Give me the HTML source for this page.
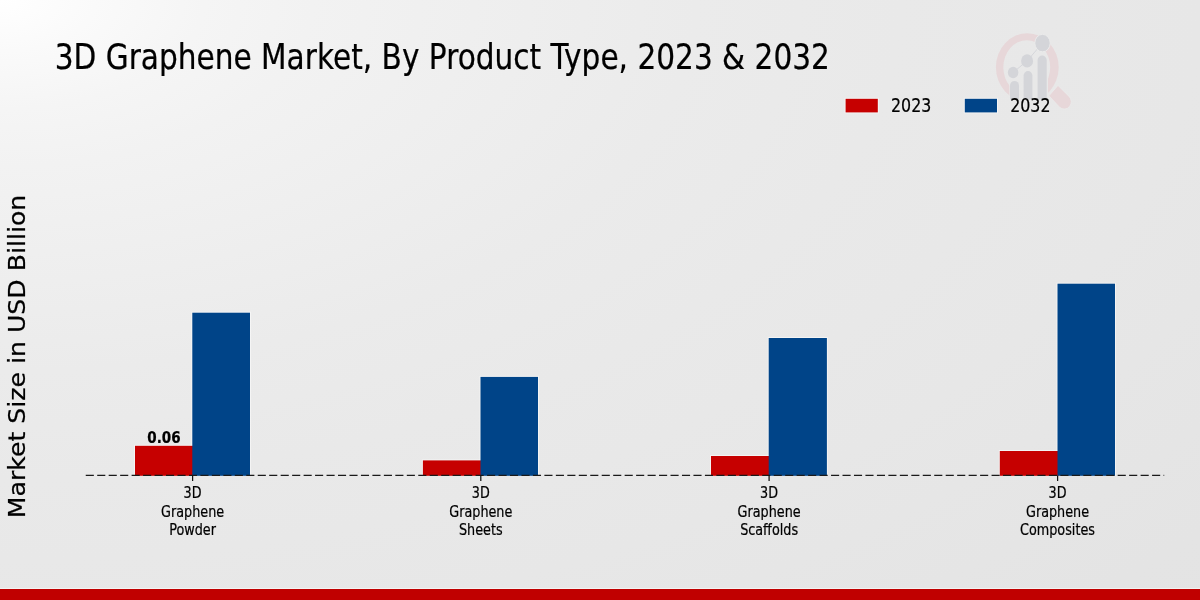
<!DOCTYPE html>
<html lang="en"><head><meta charset="utf-8"><title>3D Graphene Market, By Product Type, 2023 &amp; 2032</title>
<style>
html,body{margin:0;padding:0;}
body{width:1200px;height:600px;overflow:hidden;background:#e8e8e8;}
#chart{position:absolute;left:0;top:0;width:1200px;height:600px;
 background:radial-gradient(ellipse 1200px 640px at 0 0,#ffffff 0%,#fafafa 8%,#f5f5f5 17%,#f2f2f2 26%,#eeeeee 44%,#ebebeb 58%,#e9e9e9 75%,#e7e7e7 100%,#e4e4e4 130%,#e3e3e3 150%);}
#bar{position:absolute;left:0;top:589px;width:1200px;height:11px;background:#c00000;box-shadow:0 -1px 0 rgba(255,255,255,0.5);}
svg{position:absolute;left:0;top:0;}
svg text{font-family:"DejaVu Sans","Liberation Sans",sans-serif;fill:#000;stroke:#000;stroke-width:0.22px;vector-effect:non-scaling-stroke;stroke-linejoin:round;}
</style></head>
<body>
<div id="chart">
<svg width="1200" height="600" viewBox="0 0 1200 600">
<g id="logo">
<defs><clipPath id="rc"><path d="M980 20 H1090 V120 H980 Z M1009.3 78 V103 H1048 V78 Z" clip-rule="evenodd"/></clipPath></defs>
<g clip-path="url(#rc)">
<path fill="#e7d7d9" fill-rule="evenodd" d="M995.9 67.3 a31.4 34.1 0 1 0 62.8 0 a31.4 34.1 0 1 0 -62.8 0 Z M1003.3 67.3 a23.45 27 0 1 0 46.9 0 a23.45 27 0 1 0 -46.9 0 Z"/>
</g>
<path fill="#e7d7d9" stroke="#ebebeb" stroke-width="0.8" d="M1048.9 95.8 L1058.0 85.4 L1068.8 96.2 A6.9 7.1 0 0 1 1059.6 107.3 Z"/>
<polyline points="1013.1,72.5 1027.1,60.9 1042.5,43.1" fill="none" stroke="#d4d5d9" stroke-width="0.9"/>
<g fill="#d4d5d9" stroke="none">
<path d="M1010 99.5 V85.4 a4.5 4.5 0 0 1 9 0 V99.5 Z"/>
<path d="M1023.6 99.5 V75.5 a4.4 4.4 0 0 1 8.8 0 V99.5 Z"/>
<path d="M1037.6 99.5 V60.1 a4.55 4.55 0 0 1 9.1 0 V99.5 Z"/>
<ellipse cx="1013.1" cy="72.5" rx="5.25" ry="5.8"/>
<ellipse cx="1027.1" cy="60.9" rx="6" ry="6.6"/>
<ellipse cx="1042.5" cy="43.1" rx="7.7" ry="8.75" stroke="#ebebeb" stroke-width="1"/>
</g>
</g>
<rect x="134.0" y="444.8" width="59.3" height="31.0" fill="#fff" fill-opacity="0.5"/>
<rect x="191.3" y="311.7" width="59.7" height="164.1" fill="#fff" fill-opacity="0.5"/>
<rect x="421.9" y="459.4" width="59.6" height="16.4" fill="#fff" fill-opacity="0.5"/>
<rect x="479.5" y="375.9" width="59.5" height="99.9" fill="#fff" fill-opacity="0.5"/>
<rect x="710.0" y="455.0" width="59.7" height="20.8" fill="#fff" fill-opacity="0.5"/>
<rect x="767.7" y="337.0" width="60.2" height="138.8" fill="#fff" fill-opacity="0.5"/>
<rect x="998.8" y="450.0" width="59.7" height="25.8" fill="#fff" fill-opacity="0.5"/>
<rect x="1056.5" y="282.7" width="59.5" height="193.1" fill="#fff" fill-opacity="0.5"/>
<rect x="135.0" y="445.8" width="58.3" height="30.0" fill="#c60000"/>
<rect x="192.3" y="312.7" width="57.7" height="163.1" fill="#004488"/>
<rect x="422.9" y="460.4" width="58.6" height="15.4" fill="#c60000"/>
<rect x="480.5" y="376.9" width="57.5" height="98.9" fill="#004488"/>
<rect x="711.0" y="456.0" width="58.7" height="19.8" fill="#c60000"/>
<rect x="768.7" y="338.0" width="58.2" height="137.8" fill="#004488"/>
<rect x="999.8" y="451.0" width="58.7" height="24.8" fill="#c60000"/>
<rect x="1057.5" y="283.7" width="57.5" height="192.1" fill="#004488"/>
<line x1="85.75" y1="475.45" x2="1164.2" y2="475.45" stroke="#1a1a1a" stroke-width="1.3" stroke-dasharray="8.1 3.366"/>
<line x1="192.6" y1="475.5" x2="192.6" y2="481.0" stroke="#111" stroke-width="1.25"/>
<line x1="480.8" y1="475.5" x2="480.8" y2="481.0" stroke="#111" stroke-width="1.25"/>
<line x1="769.1" y1="475.5" x2="769.1" y2="481.0" stroke="#111" stroke-width="1.25"/>
<line x1="1057.6" y1="475.5" x2="1057.6" y2="481.0" stroke="#111" stroke-width="1.25"/>
<text transform="translate(54.7,69) scale(0.8457,1)" font-size="35.0" text-anchor="start" font-weight="normal" >3D Graphene Market, By Product Type, 2023 &amp; 2032</text>
<rect x="844.6" y="97.8" width="34.2" height="15.6" fill="#fff" fill-opacity="0.5"/>
<rect x="963.8" y="97.8" width="34.2" height="15.6" fill="#fff" fill-opacity="0.5"/>
<rect x="845.6" y="98.8" width="32.2" height="13.6" fill="#c60000"/>
<rect x="964.8" y="98.8" width="32.2" height="13.6" fill="#004488"/>
<text transform="translate(891.0,112.3) scale(0.792,1)" font-size="20" text-anchor="start" font-weight="normal" >2023</text>
<text transform="translate(1010.2,112.3) scale(0.792,1)" font-size="20" text-anchor="start" font-weight="normal" >2032</text>
<text transform="translate(192.6,497.7) scale(0.8,1)" font-size="16" text-anchor="middle" font-weight="normal" >3D</text>
<text transform="translate(192.6,517) scale(0.8,1)" font-size="16" text-anchor="middle" font-weight="normal" >Graphene</text>
<text transform="translate(192.6,534.7) scale(0.8,1)" font-size="16" text-anchor="middle" font-weight="normal" >Powder</text>
<text transform="translate(480.8,497.7) scale(0.8,1)" font-size="16" text-anchor="middle" font-weight="normal" >3D</text>
<text transform="translate(480.8,517) scale(0.8,1)" font-size="16" text-anchor="middle" font-weight="normal" >Graphene</text>
<text transform="translate(480.8,534.7) scale(0.8,1)" font-size="16" text-anchor="middle" font-weight="normal" >Sheets</text>
<text transform="translate(769.1,497.7) scale(0.8,1)" font-size="16" text-anchor="middle" font-weight="normal" >3D</text>
<text transform="translate(769.1,517) scale(0.8,1)" font-size="16" text-anchor="middle" font-weight="normal" >Graphene</text>
<text transform="translate(769.1,534.7) scale(0.8,1)" font-size="16" text-anchor="middle" font-weight="normal" >Scaffolds</text>
<text transform="translate(1057.5,497.7) scale(0.8,1)" font-size="16" text-anchor="middle" font-weight="normal" >3D</text>
<text transform="translate(1057.5,517) scale(0.8,1)" font-size="16" text-anchor="middle" font-weight="normal" >Graphene</text>
<text transform="translate(1057.5,534.7) scale(0.8,1)" font-size="16" text-anchor="middle" font-weight="normal" >Composites</text>
<text transform="translate(164.0,443.4) scale(0.829,1)" font-size="16.3" text-anchor="middle" font-weight="bold" >0.06</text>
<text transform="translate(25,356.5) scale(0.8875,1) rotate(-90)" font-size="25.18" text-anchor="middle">Market Size in USD Billion</text>
</svg>
<div id="bar"></div>
</div>
</body></html>
